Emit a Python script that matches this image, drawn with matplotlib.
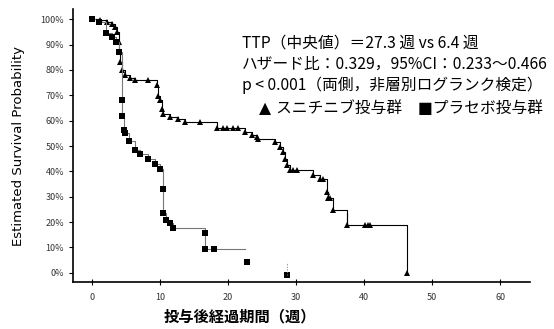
import matplotlib
matplotlib.use("Agg")
import matplotlib.pyplot as plt
import numpy as np

plt.rcParams['font.family'] = ['Noto Sans CJK JP', 'DejaVu Sans']

# sunitinib group (triangles): weeks, survival %
t_suni = [0, 1.2, 2.2, 3.0, 3.4, 3.7, 3.9, 4.0, 4.1, 4.4, 4.9, 5.6, 6.3, 8.2,
          9.5, 9.7, 10.0, 10.3, 10.4, 11.5, 12.6, 13.7, 15.9, 18.4, 19.2, 19.9,
          20.7, 21.5, 22.5, 23.5, 24.3, 24.4, 26.9, 27.6, 28.1, 28.4, 28.7, 29.1,
          29.5, 30.1, 32.5, 33.5, 34.0, 34.6, 34.7, 35.0, 35.4, 37.5, 40.1, 40.6,
          40.9, 46.3]
s_suni = [100, 99.5, 99, 98, 97, 95, 91, 87, 83, 80, 78, 77, 76, 76,
          74, 69.6, 68, 64.4, 62.5, 61.3, 60.8, 59.5, 59.5, 57.2, 57.2, 57.2,
          57.2, 57.2, 55.7, 54.5, 53.4, 52.6, 51.4, 49.8, 47.8, 44.7, 42.7, 40.7,
          40.7, 40.7, 38.7, 36.8, 36.8, 32, 29.6, 29.6, 24.9, 19, 19, 19,
          19, 0]

# placebo group (squares)
t_plac = [0, 1.0, 2.1, 3.0, 3.5, 4.0, 4.4, 4.4, 4.7, 4.8, 5.4, 6.3, 7.1, 8.2,
          9.3, 10.0, 10.4, 10.4, 10.9, 11.5, 11.9, 16.6, 16.6, 17.9]
s_plac = [100, 99, 94.5, 93, 91, 87, 68, 62, 56.5, 55, 52, 48.6, 47, 45,
          43, 41, 33, 23.7, 21, 19.8, 17.8, 15.8, 9.5, 9.5]
plac_end = 22.5
t_plac_extra = [22.8, 28.6]
s_plac_extra = [4.3, -0.8]

xticks = [0, 10, 20, 30, 40, 50, 60]
yticks = [0, 10, 20, 30, 40, 50, 60, 70, 80, 90, 100]

fig = plt.figure(figsize=(5.54, 3.29), dpi=100)
ax = fig.add_axes([0.1318, 0.1429, 0.8249, 0.8297])

ax.step(t_suni, s_suni, where='post', color='black', lw=0.8)
ax.plot(t_suni, s_suni, '^', color='black', ms=4.5, mew=0)
ax.vlines(37.5, 19, 24, color='black', lw=0.8)

ax.step(t_plac + [plac_end], s_plac + [s_plac[-1]], where='post', color='#777777', lw=0.8)
ax.plot(t_plac, s_plac, 's', color='black', ms=4.5, mew=0)
ax.plot(t_plac_extra, s_plac_extra, 's', color='black', ms=4.5, mew=0)
ax.vlines(t_plac_extra[1], s_plac_extra[1], s_plac_extra[0], color='#777777', lw=0.7, linestyles=':')

ax.set_xlim(-2.8, 64.4)
ax.set_ylim(-3.6, 104)
ax.set_xticks(xticks)
ax.set_yticks(yticks)
ax.set_yticklabels([f'{v}%' for v in yticks])
ax.tick_params(axis='both', labelsize=6.5, labelcolor='#333333', length=3)
ax.tick_params(axis='x', direction='inout', length=4, pad=6)
for s in ['top', 'right']:
    ax.spines[s].set_visible(False)
ax.spines['left'].set_linewidth(1.2)
ax.spines['bottom'].set_linewidth(1.2)

ax.set_ylabel('Estimated Survival Probability', fontsize=9.5, family='DejaVu Sans')
ax.yaxis.set_label_coords(-0.105, 0.5)

fig.text(240 / 554, 1 - 316 / 329, '投与後経過期間（週）', ha='center', va='center',
         fontsize=11, fontweight='bold')

lines = ['TTP（中央値）＝27.3 週 vs 6.4 週',
         'ハザード比：0.329，95%CI：0.233～0.466',
         'p < 0.001（両側，非層別ログランク検定）']
for i, txt in enumerate(lines):
    fig.text(242 / 554, 1 - (43 + 21 * i) / 329, txt, ha='left', va='center', fontsize=11.3)
fig.text(259 / 554, 1 - 108 / 329, '▲ スニチニブ投与群　■プラセボ投与群', ha='left',
         va='center', fontsize=11.3, family=['DejaVu Sans', 'Noto Sans CJK JP'])

fig.savefig('out.png', dpi=100)
